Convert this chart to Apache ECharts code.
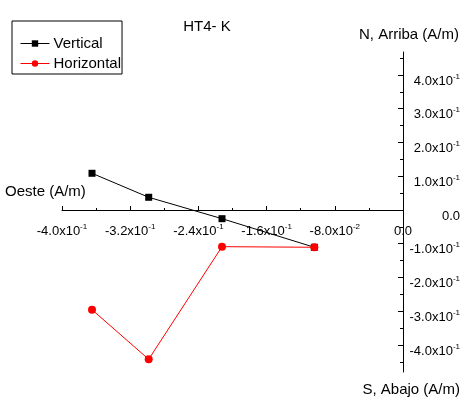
<!DOCTYPE html>
<html>
<head>
<meta charset="utf-8">
<script src="https://cdn.jsdelivr.net/npm/echarts@6/dist/echarts.min.js"></script>
<style>html,body{margin:0;padding:0;background:#fff;}#c{width:474px;height:412px;}</style>
</head>
<body>
<div id="c"></div>
<script>
const seriesNames = ['Vertical', 'Horizontal'];
const xValues = [-0.3648, -0.2983, -0.2123, -0.1040];
const verticalValues = [0.1087, 0.0376, -0.0258, -0.1105];
const horizontalValues = [-0.2954, -0.4424, -0.1087, -0.1105];
const xTickValues = [-0.4, -0.32, -0.24, -0.16, -0.08, 0];
const xTickLabels = ['-4.0x10^-1', '-3.2x10^-1', '-2.4x10^-1', '-1.6x10^-1', '-8.0x10^-2', '0.0'];
const yTickValues = [-0.4, -0.3, -0.2, -0.1, 0, 0.1, 0.2, 0.3, 0.4];
const yTickLabels = ['-4.0x10^-1', '-3.0x10^-1', '-2.0x10^-1', '-1.0x10^-1', '0.0', '1.0x10^-1', '2.0x10^-1', '3.0x10^-1', '4.0x10^-1'];
const yMinorTickValues = [-0.45, -0.35, -0.25, -0.15, -0.05, 0.05, 0.15, 0.25, 0.35, 0.45];

const FONT = '"Liberation Sans", Arial, sans-serif';

function richLabel(str) {
  const parts = str.split('^');
  if (parts.length === 1) return '{m|' + parts[0] + '}';
  return '{m|' + parts[0] + '}{e|' + parts[1] + '}';
}
function lookup(values, labels, v) {
  let best = -1, bd = Infinity;
  values.forEach((t, i) => { const d = Math.abs(t - v); if (d < bd) { bd = d; best = i; } });
  return bd < 1e-6 ? richLabel(labels[best]) : '';
}
const rich = {
  m: { fontSize: 13, fontFamily: FONT, color: '#000', lineHeight: 17 },
  e: { fontSize: 8, fontFamily: FONT, color: '#000', verticalAlign: 'top', lineHeight: 9 }
};

const chart = echarts.init(document.getElementById('c'), null, { renderer: 'canvas' });
chart.setOption({
  animation: false,
  backgroundColor: '#fff',
  title: {
    text: 'HT4- K', left: 202, top: 14, textAlign: 'center',
    textStyle: { fontFamily: FONT, fontSize: 15, fontWeight: 'normal', color: '#000' }
  },
  legend: {
    orient: 'vertical', left: 12, top: 21,
    borderColor: '#000', borderWidth: 1, padding: [15, 1, 3, 8],
    itemWidth: 29, itemHeight: 8, itemGap: 5,
    lineStyle: { width: 1 },
    textStyle: { fontFamily: FONT, fontSize: 15, color: '#000', padding: [0, 0, 0, -1] },
    data: seriesNames
  },
  grid: { left: 62, right: 71, top: 52, bottom: 40 },
  xAxis: {
    type: 'value', min: -0.4, max: 0, interval: 0.08, position: 'bottom', offset: -162,
    axisLine: { onZero: false, lineStyle: { color: '#000', width: 1 } },
    axisTick: { inside: true, length: 4, lineStyle: { color: '#000' } },
    minorTick: { show: true, splitNumber: 2, length: 2, lineStyle: { color: '#000' } },
    splitLine: { show: false },
    axisLabel: {
      margin: 13, showMinLabel: true, showMaxLabel: true,
      formatter: v => lookup(xTickValues, xTickLabels, v), rich: rich
    }
  },
  yAxis: [{
    type: 'value', min: -0.48, max: 0.468, position: 'right',
    axisLine: { onZero: false, lineStyle: { color: '#000', width: 1 } },
    axisTick: { inside: true, length: 5, customValues: yTickValues, lineStyle: { color: '#000' } },
    splitLine: { show: false },
    axisLabel: {
      customValues: yTickValues, margin: 57, align: 'right', padding: [12, 0, 0, 0],
      formatter: v => lookup(yTickValues, yTickLabels, v), rich: rich
    }
  }, {
    type: 'value', min: -0.48, max: 0.468, position: 'right',
    axisLine: { show: false, onZero: false },
    axisTick: { inside: true, length: 3, customValues: yMinorTickValues, lineStyle: { color: '#000' } },
    splitLine: { show: false },
    axisLabel: { show: false }
  }],
  series: [{
    name: seriesNames[0], type: 'line',
    data: xValues.map((x, i) => [x, verticalValues[i]]),
    symbol: 'rect', symbolSize: 7,
    lineStyle: { color: '#000', width: 1 },
    itemStyle: { color: '#000' }
  }, {
    name: seriesNames[1], type: 'line',
    data: xValues.map((x, i) => [x, horizontalValues[i]]),
    symbol: 'circle', symbolSize: 8,
    lineStyle: { color: '#f00', width: 1 },
    itemStyle: { color: '#f00' }
  }],
  graphic: [
    { type: 'text', right: 15, top: 27, style: { text: 'N, Arriba (A/m)', font: '15px ' + FONT, fill: '#000' } },
    { type: 'text', left: 5, top: 184, style: { text: 'Oeste (A/m)', font: '15px ' + FONT, fill: '#000' } },
    { type: 'text', right: 14, top: 382, style: { text: 'S, Abajo (A/m)', font: '15px ' + FONT, fill: '#000' } }
  ]
});
</script>
</body>
</html>
